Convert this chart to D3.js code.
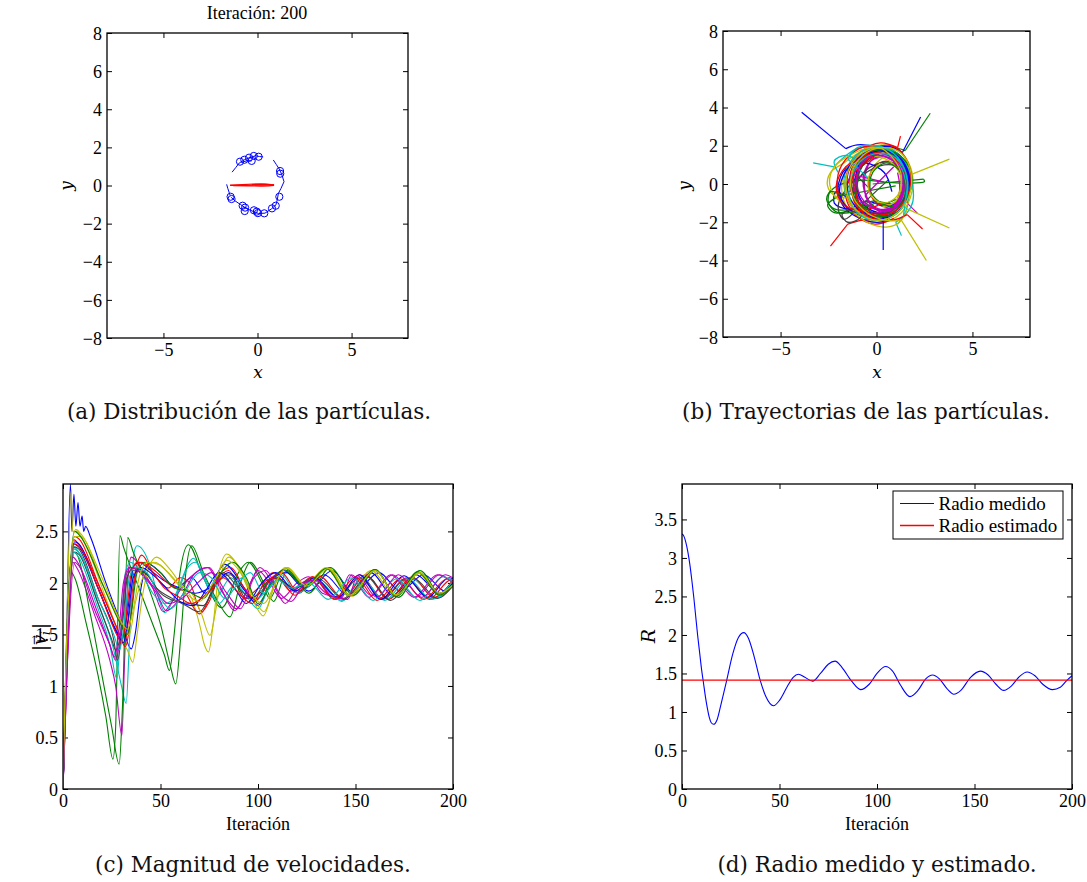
<!DOCTYPE html>
<html>
<head>
<meta charset="utf-8">
<script src="https://cdn.jsdelivr.net/npm/d3@7"></script>
<style>
  body { margin: 0; background: #fff; }
  svg { display: block; font-family: "Liberation Serif", "Times New Roman", serif; }
</style>
</head>
<body>
<svg id="fig" width="1087" height="882"></svg>
<script>
// MATLAB default colour order (b, g, r, c, m, y, k)
const lineColors = ["#0000ff", "#008000", "#ff0000", "#00bfbf", "#bf00bf", "#bfbf00", "#404040"];

// tick values
const posYTicks = [-8, -6, -4, -2, 0, 2, 4, 6, 8];
const posXTicks = [-5, 0, 5];
const iterTicks = [0, 50, 100, 150, 200];
const speedTicks = [0, 0.5, 1, 1.5, 2, 2.5];
const radiusTicks = [0, 0.5, 1, 1.5, 2, 2.5, 3, 3.5];

// (a) particle positions at iteration 200
const particlePositions = [
  [-0.93, 1.25], [-0.70, 1.35], [-0.45, 1.46], [-0.20, 1.55], [0.06, 1.51], [-0.31, 1.29],
  [1.20, 0.76], [1.16, -0.59], [0.97, -1.06], [0.77, -1.20], [0.36, -1.46],
  [-0.04, -1.37], [-0.19, -1.30], [-0.66, -1.16], [-0.79, -1.06], [-0.68, -1.34],
  [-1.43, -0.59], [-1.38, -0.71], [0.02, -1.45], [1.21, 0.62]
];
// (a) recent path of each particle
const particleTails = [
  [[-1.35, 0.70], [-1.15, 0.95], [-0.97, 1.18], [-0.70, 1.35], [-0.40, 1.47], [-0.10, 1.56], [0.10, 1.52], [0.30, 1.50]],
  [[0.84, 1.34], [1.00, 1.10], [1.16, 0.86], [1.30, 0.55], [1.41, 0.20], [1.25, -0.15], [1.11, -0.41], [1.05, -0.75], [0.98, -1.02]],
  [[0.98, -1.02], [0.75, -1.22], [0.40, -1.45], [0.05, -1.47], [-0.25, -1.35], [-0.60, -1.20], [-0.90, -1.00], [-1.20, -0.80], [-1.40, -0.62]],
  [[-1.64, 0.06], [-1.58, -0.15], [-1.46, -0.50]],
  [[-0.31, 1.29], [-0.55, 1.30], [-0.85, 1.22]]
];
// (a) centre-of-mass trail
const centerTrail = [
  [[-1.46, 0.02], [-0.80, 0.05], [-0.20, 0.08], [0.40, 0.08], [0.88, 0.03]],
  [[-1.46, 0.00], [-0.80, 0.01], [-0.20, 0.02], [0.40, 0.02], [0.88, 0.02]],
  [[-1.30, -0.01], [-0.50, -0.02], [0.20, -0.03], [0.60, -0.02], [0.88, 0.00]],
  [[-0.30, 0.05], [0.20, 0.07], [0.70, 0.05], [0.88, 0.02]]
];

// (b) particle trajectories: initial position, then the path
const trajectories = [
  [[-3.9, 3.75], [-1.6, 1.85], [-1.0, 2.05], [0.0, 1.9], [0.9, 1.3], [1.3, 0.2], [1.0, -1.1], [0.2, -1.7], [-0.7, -1.5], [-1.2, -0.6], [-1.0, 0.6], [-0.3, 1.5], [0.6, 1.7], [1.3, 1.0], [1.5, -0.2], [1.1, -1.3], [0.3, -1.8], [-0.5, -1.6], [-1.3, -0.9], [-2.1, -0.4], [-2.2, -1.0], [-1.5, -1.3], [-0.5, -0.9], [0.6, -1.2], [1.4, -0.6]],
  [[2.8, 3.7], [1.5, 1.75], [0.8, 1.9], [-0.2, 1.6], [-0.9, 0.6], [-0.9, -0.7], [-0.2, -1.5], [0.8, -1.5], [1.6, -0.6], [1.7, 0.6], [1.1, 1.6], [0.1, 1.8], [-0.7, 1.0], [-1.3, -0.3], [-2.1, -0.7], [-2.55, -1.1], [-2.2, -1.5], [-1.4, -1.4], [-0.4, -1.1], [0.5, -1.6], [1.4, -1.0], [1.8, 0.2]],
  [[1.25, 2.5], [1.1, 1.9], [0.2, 2.15], [-0.8, 1.7], [-1.5, 0.7], [-1.6, -0.5], [-1.0, -1.5], [0.1, -1.9], [1.1, -1.4], [1.6, -0.3], [1.5, 0.9], [0.8, 1.8], [-0.2, 1.9], [-1.1, 1.2], [-1.4, 0.0], [-0.9, -1.2], [0.2, -1.7], [1.2, -1.2], [1.5, -0.2], [1.2, 0.8], [0.5, 1.2], [-0.2, 0.8], [-0.4, -0.2], [0.0, -1.0], [0.8, -1.1]],
  [[-3.3, 1.1], [-2.2, 0.9], [-1.7, 1.4], [-1.0, 1.85], [-0.1, 1.9], [0.8, 1.6], [1.4, 0.8], [1.6, -0.3], [1.2, -1.4], [0.2, -1.9], [-0.8, -1.5], [-1.3, -0.4], [-1.2, 0.8], [-0.5, 1.6], [0.5, 1.9], [1.3, 1.3], [1.7, 0.1], [1.6, -1.2], [1.4, -1.7], [1.1, -2.1]],
  [[2.15, -1.55], [1.6, -1.0], [1.5, -0.2], [1.3, 0.9], [0.6, 1.5], [-0.2, 1.3], [-0.6, 0.4], [-0.5, -0.7], [0.1, -1.3], [0.9, -1.2], [1.4, -0.3], [1.3, 0.8], [0.6, 1.4], [-0.3, 1.2], [-0.7, 0.2], [-0.4, -0.9], [0.4, -1.4], [1.2, -0.9]],
  [[3.8, 1.3], [1.7, 0.45], [1.4, 1.5], [0.6, 2.0], [-0.4, 1.9], [-1.3, 1.2], [-1.8, 0.1], [-1.6, -1.1], [-0.8, -1.8], [0.3, -2.0], [1.3, -1.5], [1.85, -0.4], [1.8, 0.8], [1.2, 1.7], [0.2, 2.0], [-0.8, 1.7], [-1.7, 1.1], [-2.4, 0.6], [-2.55, -0.1], [-2.2, -0.6], [-1.4, -0.8], [-0.6, -1.5], [0.4, -1.8], [1.3, -1.2], [1.6, 0.0], [1.3, 1.1], [0.6, 1.5], [-0.1, 1.0]],
  [[0.6, 0.2], [-1.0, -1.3], [-1.7, -1.85], [-2.0, -1.2], [-1.6, -0.3], [-0.7, 0.5], [0.4, 1.0], [1.3, 0.8], [1.6, -0.1], [1.2, -1.0], [0.3, -1.5], [-0.6, -1.4], [-1.1, -0.7], [-0.9, 0.3], [-0.1, 1.0], [0.9, 1.1], [1.5, 0.4]],
  [[2.3, 3.5], [1.35, 1.65], [0.7, 1.95], [-0.3, 1.8], [-1.1, 1.0], [-1.3, -0.2], [-0.8, -1.3], [0.2, -1.7], [1.1, -1.3], [1.6, -0.2], [1.4, 1.0], [0.6, 1.7], [-0.4, 1.6], [-1.0, 0.8], [-1.0, -0.4], [-0.4, -1.3], [0.6, -1.5], [1.3, -0.8], [0.5, -1.9], [-0.6, -1.9], [-1.7, -1.2], [-2.0, -0.2], [-1.6, 0.8], [-0.6, 1.1], [0.4, 0.6], [0.8, -0.4]],
  [[-0.2, 0.0], [2.45, 0.25], [2.5, 0.12], [1.4, 0.05], [0.4, 0.1], [-0.8, 0.2], [-2.2, -0.2], [-2.6, -0.8], [-2.2, -1.3], [-1.2, -1.3], [-0.2, -0.9], [0.9, -1.0], [1.6, -0.3], [1.6, 0.8], [0.9, 1.6], [-0.2, 1.7], [-1.0, 1.0], [-1.2, -0.1], [-0.8, -1.1], [0.2, -1.6], [1.1, -1.3]],
  [[-2.4, -3.25], [-1.5, -2.1], [-0.8, -1.9], [0.2, -1.8], [1.1, -1.3], [1.5, -0.3], [1.4, 0.9], [0.7, 1.7], [-0.4, 2.0], [-1.4, 1.5], [-2.0, 0.5], [-1.9, -0.7], [-1.2, -1.5], [-0.1, -1.7], [0.9, -1.2], [1.4, -0.1], [1.2, 1.0], [0.4, 1.7], [-0.4, 1.2], [-1.3, 0.4], [-1.6, -0.6], [-1.1, -1.6], [-0.1, -2.1], [0.9, -1.8]],
  [[1.3, -2.7], [1.0, -2.0], [1.6, -1.5], [1.9, -0.9], [1.8, 0.3], [1.3, 1.4], [0.4, 1.9], [-0.6, 1.8], [-1.4, 1.1], [-1.7, 0.0], [-1.3, -1.1], [-0.4, -1.7], [0.6, -1.6], [1.3, -0.9], [1.5, 0.2], [1.0, 1.2], [0.1, 1.6], [-0.8, 1.2], [-1.6, 1.5], [-2.2, 1.2], [-2.0, 0.6]],
  [[0.4, 0.1], [-1.3, 0.5], [-1.6, -0.3], [-1.2, -1.2], [-0.3, -1.5], [0.7, -1.3], [1.3, -0.5], [1.3, 0.6], [0.8, 1.4], [-0.1, 1.6], [-0.9, 1.1], [-1.2, 0.2], [-0.9, -0.8], [-0.1, -1.3], [0.8, -1.2], [1.2, -0.4], [1.1, 0.6]],
  [[3.8, -2.3], [1.6, -1.3], [1.2, -2.0], [0.5, -2.25], [-0.5, -2.0], [-1.4, -1.3], [-2.2, -0.6], [-2.45, 0.1], [-2.2, 0.9], [-1.4, 1.5], [-0.3, 1.9], [0.9, 1.6], [1.5, 0.7], [1.6, -0.5], [1.0, -1.5], [0.0, -1.9], [-1.0, -1.5], [-1.6, -0.5], [-1.5, 0.6], [-0.8, 1.3], [0.2, 1.4], [1.0, 0.9], [1.3, 0.0], [1.0, -0.9], [0.3, -1.2]],
  [[-0.4, -0.2], [-1.0, 0.4], [-0.7, 1.3], [0.2, 1.7], [1.1, 1.4], [1.6, 0.4], [1.4, -0.8], [0.6, -1.5], [-0.4, -1.5], [-1.2, -1.3], [-1.8, -1.6], [-1.5, -2.0], [-0.8, -1.7], [-1.0, -0.7], [-1.0, 0.4], [-0.4, 1.3], [0.5, 1.6], [1.3, 1.1], [1.6, 0.0]],
  [[0.35, -3.45], [0.35, -1.7], [1.1, -1.45], [1.6, -0.6], [1.6, 0.6], [1.0, 1.5], [0.0, 1.8], [-1.0, 1.4], [-1.5, 0.5], [-1.4, -0.7], [-0.7, -1.5], [0.3, -1.8], [1.2, -1.4], [1.7, -0.4], [1.6, 0.8], [0.9, 1.6], [-0.1, 1.7], [-1.0, 1.3], [-1.7, 0.5], [-1.9, -0.6], [-1.3, -1.4], [-0.3, -1.5]],
  [[1.0, -0.1], [-1.8, -0.6], [-2.4, -0.4], [-2.5, -1.0], [-2.0, -1.5], [-1.0, -1.4], [0.0, -1.0], [1.0, -1.2], [1.7, -0.5], [1.8, 0.6], [1.2, 1.5], [0.2, 1.8], [-0.8, 1.4], [-1.3, 0.5], [-1.2, -0.6], [-0.6, -1.4], [0.4, -1.7], [1.3, -1.3], [1.5, -0.3], [1.2, 0.7], [0.5, 1.1], [-0.2, 0.6], [-0.3, -0.4], [0.3, -1.0], [1.0, -0.8]],
  [[2.4, -2.35], [1.6, -1.6], [0.8, -1.9], [-0.2, -1.8], [-1.0, -1.2], [-1.3, -0.1], [-1.0, 1.0], [-0.2, 1.8], [0.8, 2.0], [1.5, 1.4], [1.8, 0.3], [1.5, -0.8], [0.8, -1.5], [-0.2, -1.6], [-0.9, -1.0], [-1.1, 0.1], [-0.7, 1.1], [0.2, 1.7], [-0.7, 1.4], [-1.6, 0.9], [-2.1, -0.1], [-1.8, -1.0], [-0.9, -1.4], [0.1, -1.1]],
  [[-0.3, 0.2], [-1.5, 1.3], [-1.0, 1.9], [0.0, 2.0], [0.9, 1.6], [1.5, 0.7], [1.6, -0.5], [1.1, -1.5], [0.1, -1.9], [-0.9, -1.6], [-1.4, -0.7], [-1.3, 0.4], [-0.7, 1.3], [0.3, 1.6], [1.2, 1.2], [1.6, 0.2], [1.5, -0.9], [1.4, -1.7]],
  [[0.9, 0.9], [-0.6, -0.6], [-0.1, -1.3], [0.7, -1.4], [1.3, -0.8], [1.4, 0.2], [1.0, 1.1], [0.2, 1.5], [-0.6, 1.3], [-1.0, 0.5], [-0.9, -0.5], [-0.3, -1.2], [0.5, -1.4], [1.2, -0.9], [1.4, 0.1], [1.1, 1.0], [0.3, 1.5]],
  [[2.6, -4.0], [1.3, -1.9], [0.5, -1.9], [-0.5, -1.5], [-1.2, -0.7], [-1.3, 0.5], [-0.7, 1.5], [0.3, 1.9], [1.3, 1.6], [1.8, 0.6], [1.7, -0.6], [1.1, -1.5], [0.1, -1.9], [-0.9, -1.5], [-1.5, -0.6], [-1.5, 0.6], [-0.9, 1.5], [0.1, 1.9], [0.9, 1.3], [1.3, 0.4], [1.1, -0.6], [0.4, -1.0], [-0.3, -0.6], [-0.4, 0.4], [0.2, 1.1]]
];

// (c) speed magnitude |v_i| per particle, [iteration, value]
const speedCurves = [
  [[0,0],[2,1.6],[3.8,2.96],[4.6,2.5],[5.6,2.86],[6.6,2.55],[7.7,2.78],[8.7,2.55],[9.8,2.65],[10.6,2.5],[11.6,2.55],[14,2.45],[22,2.0],[30,1.6],[35,1.36],[37,1.5],[40,1.95],[44,2.18],[50,2.1],[58,1.95],[66,2.05],[73,1.9],[83,2.18],[93,1.95],[100,1.78],[108,2.05],[115,2.1],[126,1.92],[138,2.12],[149,1.9],[162,2.1],[173,1.92],[185,2.08],[196,1.92],[200,1.97]],
  [[0,0],[2,1.2],[4.3,2.1],[6,2.05],[12,1.6],[18,1.1],[22,0.7],[25.6,0.29],[27,0.6],[29.2,2.46],[31,2.35],[40,1.9],[47,1.55],[52,1.3],[54.6,1.15],[57,1.5],[60,2.1],[64.3,2.37],[72,2.05],[81.5,1.76],[90,2.1],[95,2.2],[102,2.0],[106,1.85],[114,2.14],[125,1.97],[135,2.14],[147,1.88],[160,2.13],[171,1.87],[182,2.1],[193,1.88],[200,1.98]],
  [[0,0],[2,1.4],[5.5,2.42],[8,2.38],[20,1.9],[29,1.5],[31.5,1.4],[34,1.7],[37,2.1],[40.4,2.27],[46,2.1],[54,1.95],[60,2.05],[65,2.0],[71,1.72],[78,2.0],[85,2.12],[93,1.85],[100,1.95],[108,2.1],[117,1.92],[128,2.06],[141,1.86],[152,2.08],[164,1.85],[176,2.05],[188,1.85],[199,2.03],[200,2.02]],
  [[0,0],[2,1.3],[5.5,2.35],[8,2.3],[18,1.8],[26,1.35],[30,1.0],[32.4,0.83],[34,1.4],[36.5,2.3],[38,2.36],[44,2.2],[49,1.85],[52.4,1.71],[58,1.9],[66.9,2.24],[72,2.05],[78,1.85],[86,2.05],[93,1.9],[100,1.75],[108,2.05],[118,1.95],[130,2.02],[143,1.83],[155,2.07],[167,1.85],[179,2.04],[191,1.85],[200,2.0]],
  [[0,0],[2,1.1],[5,2.2],[7,2.15],[16,1.7],[24,1.25],[27,1.0],[30.2,0.52],[31.5,1.2],[33.5,2.1],[35,2.25],[40,2.15],[46,1.95],[51.5,1.72],[57,1.85],[65,2.05],[75,2.15],[81,1.95],[88,1.73],[95,1.95],[100,2.12],[106,2.0],[112,1.85],[120,2.0],[126,2.06],[133,1.9],[143,1.86],[148,2.08],[158,1.88],[169,2.08],[181,1.86],[193,2.08],[200,2.0]],
  [[0,0],[2,1.6],[4.2,2.9],[5,2.5],[7,2.5],[12,2.35],[22,1.85],[30,1.45],[33,1.35],[35.8,1.23],[38,1.5],[41,1.9],[44,2.15],[48,2.25],[54,2.15],[60,2.0],[66,1.85],[70,1.6],[72.5,1.4],[74.6,1.33],[77,1.6],[80,2.1],[84,2.28],[90,2.15],[97,1.85],[102.7,1.68],[108,1.95],[114,2.15],[125,1.97],[136,2.15],[148,1.87],[160,2.12],[171,1.88],[183,2.1],[194,1.88],[200,1.98]],
  [[0,0],[2,1.3],[6,2.3],[8,2.28],[18,1.8],[25,1.45],[27,1.35],[29.5,1.5],[32,2.0],[35,2.12],[42,2.1],[48,1.95],[56,1.85],[63,1.78],[70,1.72],[76,1.9],[82,2.1],[90,1.95],[97,1.85],[104,2.0],[110,2.05],[118,1.93],[128,2.05],[140,1.84],[152,2.05],[164,1.84],[176,2.04],[188,1.84],[200,2.02]],
  [[0,0],[2,1.4],[6,2.4],[8,2.38],[18,1.95],[27,1.55],[30,1.45],[33,1.7],[36,2.15],[39,2.2],[45,2.12],[52,2.02],[60,1.95],[68,1.9],[76,1.96],[85,2.1],[93,1.93],[98,1.82],[106,2.02],[113,2.12],[124,1.95],[134,2.08],[146,1.88],[158,2.1],[169,1.88],[181,2.08],[193,1.9],[200,2.0]],
  [[0,0],[2,1.5],[5,2.3],[7,2.28],[14,1.7],[20,1.1],[25,0.6],[28.8,0.24],[30.5,0.8],[33.2,2.44],[36,2.3],[44,1.95],[50,1.6],[55,1.2],[57.8,1.02],[60.5,1.5],[63,2.1],[66,2.36],[72,2.1],[80,1.8],[85.6,1.67],[91,2.0],[96,2.2],[103,2.0],[108,1.82],[115,2.12],[126,1.9],[137,2.15],[149,1.88],[160,2.12],[172,1.86],[183,2.12],[194,1.88],[200,1.97]],
  [[0,0],[2,1.45],[6,2.45],[8.5,2.42],[18,2.0],[28,1.55],[32,1.38],[34,1.55],[37,2.05],[40,2.2],[47,2.12],[55,1.98],[62,1.92],[70,1.7],[75,1.82],[81,2.1],[86,2.15],[93,1.95],[99,1.83],[107,2.05],[112,2.1],[121,1.9],[131,2.07],[144,1.85],[155,2.08],[167,1.84],[179,2.06],[190,1.86],[200,2.03]],
  [[0,0],[2,1.3],[5.5,2.3],[8,2.25],[17,1.8],[24,1.4],[27.6,1.07],[29.5,1.5],[32,2.1],[34.5,2.2],[40,2.1],[46,1.9],[52,1.8],[58,1.88],[64,2.15],[68,2.2],[74,2.0],[80,1.8],[86,1.95],[92,2.05],[99,1.85],[106,1.95],[112,2.08],[120,1.9],[131,2.02],[143,1.82],[153,2.05],[165,1.83],[177,2.04],[189,1.84],[200,2.02]],
  [[0,0],[2,1.1],[6,2.2],[8,2.17],[17,1.75],[24,1.4],[27,1.25],[29.5,1.5],[32,2.05],[35,2.15],[42,2.05],[48,1.9],[53,1.73],[60,1.85],[68,2.1],[74,2.15],[82,1.9],[89,1.75],[96,2.0],[101,2.15],[108,1.98],[114,1.8],[122,2.0],[127,2.02],[135,1.9],[141,1.85],[147,2.08],[157,1.86],[168,2.08],[180,1.86],[192,2.08],[200,2.0]],
  [[0,0],[2,1.4],[6,2.45],[9,2.45],[20,2.0],[30,1.6],[34,1.5],[37,1.8],[42,2.1],[47,2.2],[53,2.12],[60,1.98],[66,1.9],[71,1.7],[75.4,1.49],[78,1.7],[82,2.15],[85,2.25],[92,2.1],[98,1.85],[103,1.72],[109,2.0],[115,2.15],[124,1.98],[135,2.15],[146,1.88],[158,2.12],[170,1.88],[182,2.1],[193,1.88],[200,1.97]],
  [[0,0],[2,1.35],[6,2.35],[8,2.33],[18,1.85],[26,1.45],[28,1.25],[30,1.5],[33,2.05],[36,2.15],[43,2.08],[50,1.9],[58,1.82],[65,1.8],[72,1.78],[79,2.0],[86,2.08],[94,1.85],[101,1.9],[107,2.05],[114,2.0],[121,1.92],[131,2.04],[144,1.84],[156,2.06],[168,1.83],[180,2.04],[192,1.85],[200,1.98]],
  [[0,0],[2,1.45],[5.5,2.38],[8,2.35],[19,1.9],[28,1.5],[31,1.42],[33,1.6],[36,2.05],[40,2.15],[46,2.08],[53,1.95],[60,1.82],[67,1.78],[73,1.92],[80,2.1],[88,1.95],[94,1.8],[102,2.0],[109,2.1],[119,1.92],[129,2.05],[141,1.86],[152,2.08],[163,1.84],[175,2.07],[187,1.86],[198,2.05],[200,2.04]],
  [[0,0],[2,1.5],[6,2.5],[9,2.45],[20,2.0],[29,1.62],[33,1.5],[35,1.7],[38,2.1],[42,2.2],[50,2.1],[57,1.95],[64,1.92],[72,1.85],[79,2.05],[87,2.2],[94,2.05],[100,1.8],[106,1.97],[113,2.13],[124,1.97],[135,2.14],[147,1.88],[160,2.13],[171,1.87],[182,2.11],[193,1.88],[200,1.98]],
  [[0,0],[2,1.4],[6,2.38],[8.5,2.35],[19,1.9],[28,1.48],[30,1.42],[32,1.6],[35,2.1],[38,2.2],[44,2.15],[52,1.95],[58,1.88],[66,1.8],[74,1.9],[82,2.05],[90,1.9],[97,1.8],[104,2.02],[110,2.05],[119,1.88],[128,2.06],[139,1.84],[150,2.06],[161,1.83],[173,2.04],[185,1.84],[197,2.04],[200,2.02]],
  [[0,0],[2,1.35],[5.5,2.33],[8,2.3],[18,1.85],[26,1.5],[29,1.35],[31,1.55],[34,2.05],[37,2.15],[43,2.1],[50,1.85],[55,1.75],[62,1.9],[70,2.1],[76,2.05],[83,1.85],[90,2.0],[96,2.1],[103,1.9],[110,2.03],[117,1.95],[126,2.0],[136,1.84],[148,2.05],[159,1.83],[171,2.04],[183,1.83],[195,2.06],[200,2.01]],
  [[0,0],[2,1.15],[5,2.25],[7.5,2.2],[16,1.75],[24,1.4],[26.5,1.28],[28.5,1.5],[31,2.0],[34,2.15],[40,2.1],[47,1.95],[54,1.8],[61,1.85],[69,2.0],[76,2.1],[84,1.9],[91,1.75],[98,2.05],[104,2.12],[111,1.9],[117,1.82],[124,2.0],[130,2.03],[138,1.87],[146,1.84],[151,2.07],[161,1.86],[172,2.08],[184,1.86],[196,2.08],[200,2.05]],
  [[0,0],[2,1.5],[6.5,2.52],[9,2.48],[20,2.05],[29,1.65],[33,1.55],[35,1.65],[39,2.05],[43,2.2],[49,2.18],[56,2.05],[63,1.9],[70,1.82],[77,2.0],[84,2.22],[91,2.1],[97,1.88],[103,1.8],[109,2.0],[115,2.15],[125,1.97],[136,2.14],[147,1.88],[160,2.12],[171,1.88],[183,2.1],[193,1.9],[200,1.98]]
];

// (d) measured radius, [iteration, R]
const radiusMeasured = [
  [0,3.31],[1,3.28],[2,3.2],[3,3.08],[4,2.92],[5,2.72],[6,2.5],[7,2.25],[8,2.0],[9,1.78],[10,1.56],[11,1.38],[12,1.2],[13,1.05],[14,0.93],[15,0.86],[16.2,0.84],
  [18,0.9],[20,1.1],[23,1.42],[26,1.75],[29,1.97],[31.7,2.03],[34,1.96],[37,1.72],[40,1.42],[43,1.2],[46.9,1.08],
  [50,1.15],[54,1.33],[57,1.45],[59.7,1.49],[63,1.45],[67,1.4],[71,1.5],[75,1.62],[78.5,1.66],[82,1.58],[87,1.4],[91.6,1.29],
  [96,1.36],[100,1.5],[104.4,1.59],[108,1.53],[112,1.35],[116.9,1.2],[121,1.28],[125,1.43],[128.5,1.48],[132,1.43],[136,1.3],[139.4,1.23],
  [143,1.28],[148,1.45],[153,1.53],[157,1.48],[161,1.36],[165,1.28],[169,1.34],[173,1.46],[177,1.52],[181,1.47],[185,1.36],[190,1.29],[194,1.32],[197,1.4],[200,1.47]
];
// (d) estimated radius
const radiusEstimated = 1.4142;
const legendLabels = ["Radio medido", "Radio estimado"];

const svg = d3.select("#fig");
const fmt = v => String(v).replace("-", "\u2212");

// boxed axes with inward ticks on all four sides
function boxAxes(g, id, x, y, xt, yt) {
  const [x0, x1] = x.range();
  const [y0, y1] = y.range();
  const w = x1 - x0, h = y0 - y1;
  g.append("clipPath").attr("id", id).append("rect").attr("width", w).attr("height", h);
  const ax = (gen, tx, ty, labels, pad) => {
    const a = g.append("g").attr("transform", `translate(${tx},${ty})`)
      .call(gen.tickSize(-5).tickPadding(labels ? pad : 0).tickFormat(labels ? fmt : ""));
    a.select(".domain").remove();
    a.selectAll(".tick line").attr("stroke", "#000").attr("stroke-width", 1);
    a.selectAll(".tick text").attr("font-family", "Liberation Serif, serif").attr("font-size", 18).attr("fill", "#000");
    return a;
  };
  ax(d3.axisBottom(x).tickValues(xt), 0, h, true, 3).selectAll(".tick text").attr("dy", "0.85em");
  ax(d3.axisTop(x).tickValues(xt), 0, 0, false, 0);
  ax(d3.axisLeft(y).tickValues(yt), 0, 0, true, 5).selectAll(".tick text").attr("dy", "0.34em");
  ax(d3.axisRight(y).tickValues(yt), w, 0, false, 0);
  return { w, h };
}

function frameRect(g, w, h) {
  g.append("rect").attr("width", w).attr("height", h)
    .attr("fill", "none").attr("stroke", "#000").attr("stroke-width", 1.3);
}

function caption(cx, cy, txt) {
  svg.append("text").attr("x", cx).attr("y", cy).attr("text-anchor", "middle")
    .attr("font-family", "DejaVu Serif, serif").attr("font-size", 21.5).attr("fill", "#111")
    .text(txt);
}

function italicLabel(x, y, txt, rotate, size) {
  svg.append("text").attr("transform", `translate(${x},${y})` + (rotate ? " rotate(-90)" : ""))
    .attr("text-anchor", "middle").attr("font-family", "DejaVu Serif, serif")
    .attr("font-style", "italic").attr("font-size", size || 17).attr("fill", "#000").text(txt);
}

// ---------- (a) particle distribution ----------
{
  const g = svg.append("g").attr("transform", "translate(107,33)");
  const x = d3.scaleLinear([-8, 8], [0, 301]);
  const y = d3.scaleLinear([-8, 8], [305, 0]);
  const { w, h } = boxAxes(g, "clipA", x, y, posXTicks, posYTicks);
  const plot = g.append("g").attr("clip-path", "url(#clipA)");
  const line = d3.line().x(d => x(d[0])).y(d => y(d[1]));
  plot.selectAll("path.trail").data(centerTrail).join("path").attr("class", "trail")
    .attr("d", line).attr("fill", "none").attr("stroke", "#ff0000").attr("stroke-width", 1.2);
  plot.selectAll("path.tail").data(particleTails).join("path").attr("class", "tail")
    .attr("d", line).attr("fill", "none").attr("stroke", "#0000ff").attr("stroke-width", 1);
  plot.selectAll("circle").data(particlePositions).join("circle")
    .attr("cx", d => x(d[0])).attr("cy", d => y(d[1])).attr("r", 3.6)
    .attr("fill", "none").attr("stroke", "#0000ff").attr("stroke-width", 1);
  frameRect(g, w, h);
  svg.append("text").attr("x", 257).attr("y", 19).attr("text-anchor", "middle")
    .attr("font-size", 18).attr("fill", "#000").text("Iteración: 200");
  italicLabel(258, 378, "x", false);
  italicLabel(72, 186, "y", true);
  caption(249, 419, "(a)  Distribución de las partículas.");
}

// ---------- (b) trajectories ----------
{
  const g = svg.append("g").attr("transform", "translate(723,31)");
  const x = d3.scaleLinear([-8, 8], [0, 307]);
  const y = d3.scaleLinear([-8, 8], [306, 0]);
  const { w, h } = boxAxes(g, "clipB", x, y, posXTicks, posYTicks);
  const plot = g.append("g").attr("clip-path", "url(#clipB)");
  const straight = d3.line().x(d => x(d[0])).y(d => y(d[1]));
  const smooth = d3.line().x(d => x(d[0])).y(d => y(d[1])).curve(d3.curveCatmullRom.alpha(0.5));
  trajectories.forEach((t, i) => {
    const c = lineColors[i % lineColors.length];
    plot.append("path").attr("d", straight(t.slice(0, 2))).attr("fill", "none")
      .attr("stroke", c).attr("stroke-width", 1.2);
    plot.append("path").attr("d", smooth(t.slice(1))).attr("fill", "none")
      .attr("stroke", c).attr("stroke-width", 1.3);
  });
  frameRect(g, w, h);
  italicLabel(877, 378, "x", false);
  italicLabel(690, 186, "y", true);
  caption(866, 419, "(b)  Trayectorias de las partículas.");
}

// ---------- (c) speed magnitudes ----------
{
  const g = svg.append("g").attr("transform", "translate(63,484)");
  const x = d3.scaleLinear([0, 200], [0, 390]);
  const y = d3.scaleLinear([0, 2.96], [305, 0]);
  const { w, h } = boxAxes(g, "clipC", x, y, iterTicks, speedTicks);
  const plot = g.append("g").attr("clip-path", "url(#clipC)");
  const line = d3.line().x(d => x(d[0])).y(d => y(d[1])).curve(d3.curveMonotoneX);
  plot.selectAll("path").data(speedCurves).join("path")
    .attr("d", line).attr("fill", "none")
    .attr("stroke", (d, i) => lineColors[i % lineColors.length]).attr("stroke-width", 1.1);
  frameRect(g, w, h);
  svg.append("text").attr("x", 258).attr("y", 830).attr("text-anchor", "middle")
    .attr("font-size", 18).attr("fill", "#000").text("Iteración");
  // |v_i| with an arrow over the v, written along the vertical axis
  const yl = svg.append("g").attr("transform", "translate(46,636) rotate(-90)")
    .attr("font-family", "DejaVu Serif, serif").attr("fill", "#000");
  yl.append("text").attr("x", -15).attr("y", 0).attr("font-size", 18).text("|");
  yl.append("text").attr("x", -9).attr("y", 0).attr("font-size", 18).attr("font-style", "italic").text("v");
  yl.append("text").attr("x", -9).attr("y", -8).attr("font-size", 12).text("\u2192");
  yl.append("text").attr("x", 1).attr("y", 4).attr("font-size", 12).attr("font-style", "italic").text("i");
  yl.append("text").attr("x", 7).attr("y", 0).attr("font-size", 18).text("|");
  caption(253, 872, "(c)  Magnitud de velocidades.");
}

// ---------- (d) measured vs estimated radius ----------
{
  const g = svg.append("g").attr("transform", "translate(682,484)");
  const x = d3.scaleLinear([0, 200], [0, 390]);
  const y = d3.scaleLinear([0, 3.96], [305, 0]);
  const { w, h } = boxAxes(g, "clipD", x, y, iterTicks, radiusTicks);
  const plot = g.append("g").attr("clip-path", "url(#clipD)");
  const line = d3.line().x(d => x(d[0])).y(d => y(d[1])).curve(d3.curveMonotoneX);
  plot.append("path").datum(radiusMeasured).attr("d", line)
    .attr("fill", "none").attr("stroke", "#0000ff").attr("stroke-width", 1.1);
  plot.append("line").attr("x1", x(0)).attr("x2", x(200))
    .attr("y1", y(radiusEstimated)).attr("y2", y(radiusEstimated))
    .attr("stroke", "#ff0000").attr("stroke-width", 1.4);
  frameRect(g, w, h);
  // legend
  const lg = g.append("g").attr("transform", "translate(211,7)");
  lg.append("rect").attr("width", 170).attr("height", 48)
    .attr("fill", "#fff").attr("stroke", "#000").attr("stroke-width", 1);
  [["#0000ff", 1.1], ["#ff0000", 1.4]].forEach(([c, sw], i) => {
    const yy = 12.5 + i * 22;
    lg.append("line").attr("x1", 7).attr("x2", 41).attr("y1", yy).attr("y2", yy)
      .attr("stroke", c).attr("stroke-width", sw);
    lg.append("text").attr("x", 45.5).attr("y", yy).attr("dy", "0.34em")
      .attr("font-size", 19).attr("fill", "#000").text(legendLabels[i]);
  });
  svg.append("text").attr("x", 877).attr("y", 830).attr("text-anchor", "middle")
    .attr("font-size", 18).attr("fill", "#000").text("Iteración");
  italicLabel(655, 636, "R", true, 19);
  caption(877, 872, "(d)  Radio medido y estimado.");
}
</script>
</body>
</html>
